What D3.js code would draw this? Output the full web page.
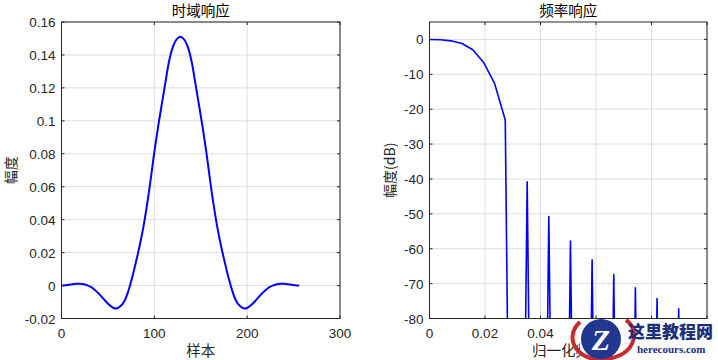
<!DOCTYPE html>
<html>
<head>
<meta charset="utf-8">
<script src="https://cdn.jsdelivr.net/npm/d3@7"></script>
<style>
  body { margin: 0; background: #fff; }
  svg { display: block; }
</style>
</head>
<body>
<svg id="chart" width="718" height="360"></svg>
<script>
// time-domain response (every 4th sample)
const timeSamples = [0, 4, 8, 12, 16, 20, 24, 28, 32, 36, 40, 44, 48, 52, 56, 60, 64,
  68, 72, 76, 80, 84, 88, 92, 96, 100, 104, 108, 112, 116, 120, 124, 128,
  132, 136, 140, 144, 148, 152, 156, 160, 164, 168, 172, 176, 180, 184, 188, 192,
  196, 200, 204, 208, 212, 216, 220, 224, 228, 232, 236, 240, 244, 248, 252, 256];
const timeAmplitude = [0.0000, 0.0002, 0.0005, 0.0008, 0.0011, 0.0011, 0.0008, 0.0001, -0.0010,
  -0.0027, -0.0048, -0.0073, -0.0098, -0.0120, -0.0136, -0.0138, -0.0123,
  -0.0092, -0.0033, 0.0046, 0.0138, 0.0237, 0.0349, 0.0485, 0.0642,
  0.0811, 0.0962, 0.1100, 0.1235, 0.1365, 0.1449, 0.1495, 0.1510,
  0.1495, 0.1449, 0.1365, 0.1235, 0.1100, 0.0962, 0.0811, 0.0642,
  0.0485, 0.0349, 0.0237, 0.0138, 0.0046, -0.0033, -0.0092, -0.0123,
  -0.0138, -0.0136, -0.0120, -0.0098, -0.0073, -0.0048, -0.0027, -0.0010,
  0.0001, 0.0008, 0.0011, 0.0011, 0.0008, 0.0005, 0.0002, 0.0000];

// frequency response (normalized frequency, dB); nulls sit far below the axis
const freqNorm = [0, 0.0039, 0.0078, 0.0117, 0.0156, 0.0195, 0.0234, 0.0273, 0.0313,
  0.0352, 0.0391, 0.0430, 0.0469, 0.0508, 0.0547, 0.0586, 0.0625, 0.0664,
  0.0703, 0.0742, 0.0781, 0.0820, 0.0859, 0.0898, 0.0938, 0.0977, 0.1016];
const magnitudeDb = [0, -0.1, -0.4, -1.15, -2.95, -6.6, -12.5, -23.1, -320,
  -40.8, -320, -50.8, -320, -57.8, -320, -63.2, -320, -67.4,
  -320, -71.2, -320, -74.3, -320, -77.2, -320, -80.6, -320];

const timeXTicks = [0, 100, 200, 300];
const timeYTicks = [-0.02, 0, 0.02, 0.04, 0.06, 0.08, 0.1, 0.12, 0.14, 0.16];
const freqXTicks = [0, 0.02, 0.04, 0.06, 0.08, 0.1];
const freqYTicks = [-80, -70, -60, -50, -40, -30, -20, -10, 0];

const svg = d3.select('#chart');
const axisColor = '#262626';
const cjk = '"Noto Sans CJK SC", sans-serif';
const fmt = d => String(+d.toFixed(4));

function drawPanel(cfg) {
  var x = d3.scaleLinear().domain(cfg.xDomain).range([cfg.left, cfg.right])
    , y = d3.scaleLinear().domain(cfg.yDomain).range([cfg.bottom, cfg.top])
    , g = svg.append('g')
    , tick = 3;

  // grid
  g.selectAll('.vgrid').data(cfg.xTicks).enter().append('line')
    .attr('x1', d => x(d)).attr('x2', d => x(d))
    .attr('y1', cfg.top).attr('y2', cfg.bottom)
    .attr('stroke', '#dedede').attr('stroke-width', 1);
  g.selectAll('.hgrid').data(cfg.yTicks).enter().append('line')
    .attr('x1', cfg.left).attr('x2', cfg.right)
    .attr('y1', d => y(d)).attr('y2', d => y(d))
    .attr('stroke', '#dedede').attr('stroke-width', 1);

  // data line
  var clipId = 'clip' + cfg.id;
  svg.append('clipPath').attr('id', clipId).append('rect')
    .attr('x', cfg.left).attr('y', cfg.top)
    .attr('width', cfg.right - cfg.left).attr('height', cfg.bottom - cfg.top);

  var line = d3.line()
    .x((d, i) => x(cfg.xs[i]))
    .y(d => y(d))
    .curve(cfg.curve);

  g.append('path')
    .datum(cfg.ys)
    .attr('clip-path', 'url(#' + clipId + ')')
    .attr('fill', 'none')
    .attr('stroke', '#0000ff')
    .attr('stroke-width', cfg.lineWidth)
    .attr('stroke-linejoin', 'round')
    .attr('d', line);

  // inward ticks on all four sides
  cfg.xTicks.forEach(function (d) {
    g.append('line').attr('x1', x(d)).attr('x2', x(d)).attr('y1', cfg.bottom).attr('y2', cfg.bottom - tick).attr('stroke', axisColor);
    g.append('line').attr('x1', x(d)).attr('x2', x(d)).attr('y1', cfg.top).attr('y2', cfg.top + tick).attr('stroke', axisColor);
  });
  cfg.yTicks.forEach(function (d) {
    g.append('line').attr('x1', cfg.left).attr('x2', cfg.left + tick).attr('y1', y(d)).attr('y2', y(d)).attr('stroke', axisColor);
    g.append('line').attr('x1', cfg.right).attr('x2', cfg.right - tick).attr('y1', y(d)).attr('y2', y(d)).attr('stroke', axisColor);
  });

  // box
  g.append('rect')
    .attr('x', cfg.left).attr('y', cfg.top)
    .attr('width', cfg.right - cfg.left).attr('height', cfg.bottom - cfg.top)
    .attr('fill', 'none').attr('stroke', axisColor).attr('stroke-width', 1);

  // tick labels
  g.selectAll('.xlab').data(cfg.xTicks).enter().append('text')
    .attr('x', d => x(d)).attr('y', cfg.bottom + 19)
    .attr('text-anchor', 'middle')
    .style('font', '13.5px "Liberation Sans", Arial, sans-serif')
    .attr('fill', axisColor)
    .text(fmt);
  g.selectAll('.ylab').data(cfg.yTicks).enter().append('text')
    .attr('x', cfg.left - 6).attr('y', d => y(d) + 5)
    .attr('text-anchor', 'end')
    .style('font', '13.5px "Liberation Sans", Arial, sans-serif')
    .attr('fill', axisColor)
    .text(fmt);

  // title and axis labels
  var mid = (cfg.left + cfg.right) / 2;
  g.append('text').attr('x', mid).attr('y', 16)
    .attr('text-anchor', 'middle')
    .style('font', '14.5px ' + cjk).attr('fill', '#000')
    .text(cfg.title);
  g.append('text').attr('x', mid).attr('y', 356)
    .attr('text-anchor', 'middle')
    .style('font', '14.5px ' + cjk).attr('fill', axisColor)
    .text(cfg.xLabel);
  g.append('text')
    .attr('transform', 'translate(' + cfg.yLabelX + ',' + (cfg.top + cfg.bottom) / 2 + ') rotate(-90)')
    .attr('text-anchor', 'middle')
    .style('font', '14px ' + cjk).attr('fill', axisColor)
    .text(cfg.yLabel);
}

drawPanel({
  id: 'time', left: 61.5, right: 340, top: 22, bottom: 318.5,
  xDomain: [0, 300], yDomain: [-0.02, 0.16],
  xTicks: timeXTicks, yTicks: timeYTicks,
  xs: timeSamples, ys: timeAmplitude,
  curve: d3.curveCatmullRom, lineWidth: 2,
  title: '时域响应', xLabel: '样本', yLabel: '幅度', yLabelX: 16
});

drawPanel({
  id: 'freq', left: 429.5, right: 707, top: 22, bottom: 318.5,
  xDomain: [0, 0.1], yDomain: [-80, 5],
  xTicks: freqXTicks, yTicks: freqYTicks,
  xs: freqNorm, ys: magnitudeDb,
  curve: d3.curveLinear, lineWidth: 1.6,
  title: '频率响应', xLabel: '归一化频率', yLabel: '幅度(dB)', yLabelX: 395
});

// site watermark in the lower right corner, on a white patch like the source image
const wm = svg.append('g');
wm.append('rect').attr('x', 580).attr('y', 321).attr('width', 138).attr('height', 39).attr('fill', '#fff');
wm.append('path')
  .attr('d', 'M580,322 C562,338 578,366 612,358 C636,352 640,330 626,320')
  .attr('fill', 'none').attr('stroke', '#c62a2f').attr('stroke-width', 4);
wm.append('circle').attr('cx', 601).attr('cy', 339).attr('r', 20).attr('fill', '#22388f');
wm.append('text').attr('x', 601).attr('y', 350).attr('text-anchor', 'middle')
  .style('font', 'italic bold 30px "Liberation Serif", serif').attr('fill', '#fff').text('Z');
wm.append('text').attr('x', 628).attr('y', 338)
  .style('font', '900 17px "Noto Sans CJK SC", sans-serif').attr('fill', '#1c2f7c').text('这里教程网');
wm.append('text').attr('x', 637).attr('y', 353)
  .style('font', 'bold 11px "Liberation Serif", serif').attr('fill', '#1c2f7c').text('herecours.com');
</script>
</body>
</html>
